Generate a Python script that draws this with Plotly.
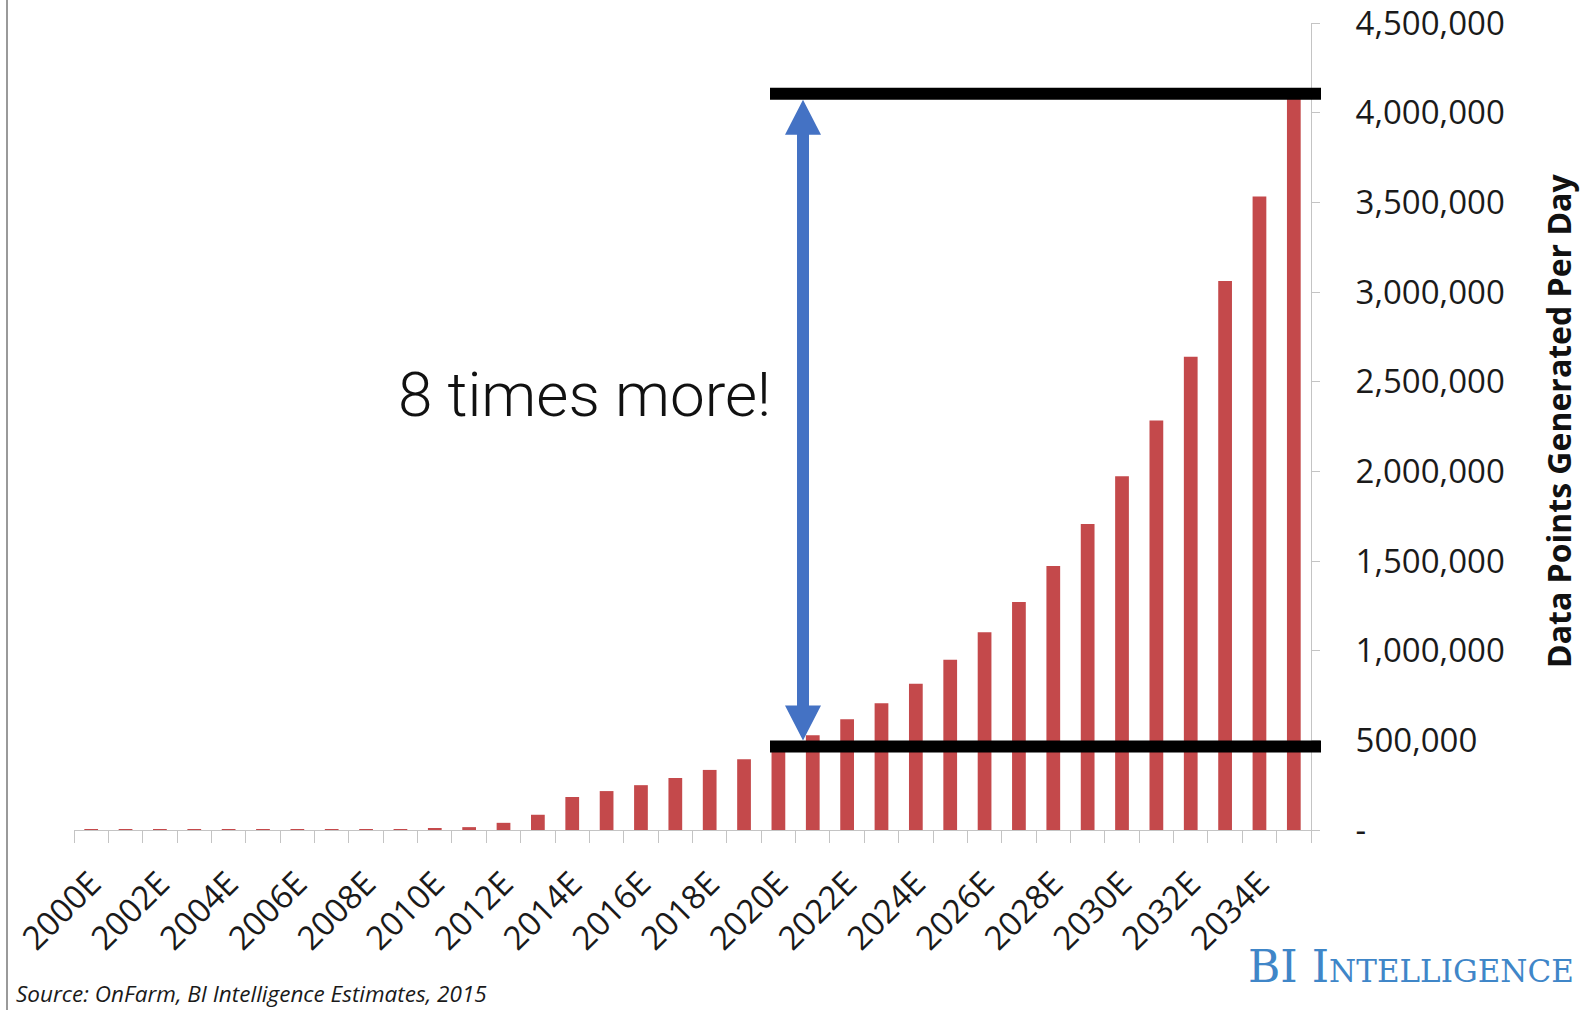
import plotly.graph_objects as go

# ---- data -------------------------------------------------------------
years = ["2000E", "2001E", "2002E", "2003E", "2004E", "2005E", "2006E", "2007E",
         "2008E", "2009E", "2010E", "2011E", "2012E", "2013E", "2014E", "2015E",
         "2016E", "2017E", "2018E", "2019E", "2020E", "2021E", "2022E", "2023E",
         "2024E", "2025E", "2026E", "2027E", "2028E", "2029E", "2030E", "2031E",
         "2032E", "2033E", "2034E", "2035E"]

data_points = [2000, 2100, 2300, 2500, 2700, 3000, 3300, 3700,
               4300, 5200, 8000, 16000, 40000, 85000, 184000, 217000,
               250000, 290000, 335000, 395000, 460000, 528000, 617000, 707000,
               816000, 950000, 1102000, 1272000, 1472000, 1707000, 1972000, 2283000,
               2639000, 3061000, 3533000, 4110000]

y_tick_values = [0, 500000, 1000000, 1500000, 2000000, 2500000, 3000000,
                 3500000, 4000000, 4500000]
y_tick_labels = ["-", "500,000", "1,000,000", "1,500,000", "2,000,000",
                 "2,500,000", "3,000,000", "3,500,000", "4,000,000", "4,500,000"]

# reference levels marked by the black bars
level_high = 4105000
level_low = 465000

# ---- layout geometry (pixels) -----------------------------------------
W, H = 1583, 1010
PL, PR, PT, PB = 74, 1311, 23, 830
Y_MAX = 4500000
Y_PER_PX = Y_MAX / (PB - PT)


def px_x(px):
    return (px - PL) / (PR - PL)


def px_y(py):
    return (PB - py) / (PB - PT)


idx = list(range(len(years)))
label_idx = idx[::2]

fig = go.Figure()
fig.add_trace(go.Bar(
    x=idx, y=data_points,
    marker=dict(color="#C4494B", line=dict(width=0)),
    hoverinfo="skip",
))

tick_font = dict(family="Open Sans", size=33, color="#1a1a1a")

fig.update_layout(
    template="none",
    width=W, height=H,
    margin=dict(l=PL, r=W - PR, t=PT, b=H - PB, pad=0),
    paper_bgcolor="white", plot_bgcolor="white",
    showlegend=False,
    bargap=0.6,
    xaxis=dict(
        type="linear", range=[-0.5, len(years) - 0.5],
        tickmode="array", tickvals=label_idx,
        ticktext=[years[i] for i in label_idx],
        tickangle=-45, tickfont=tick_font,
        ticks="", ticklabelstandoff=20,
        minor=dict(tickmode="array",
                   tickvals=[i - 0.5 for i in range(len(years) + 1)],
                   ticks="outside", ticklen=12, tickcolor="#c4c4c4", tickwidth=1),
        showline=True, linecolor="#c4c4c4", linewidth=1,
        showgrid=False, zeroline=False, automargin=False, fixedrange=True,
    ),
    yaxis=dict(
        side="right", range=[0, Y_MAX],
        tickmode="array", tickvals=y_tick_values, ticktext=y_tick_labels,
        tickfont=tick_font, ticklabeloverflow="allow",
        ticks="outside", ticklen=8, tickcolor="#c4c4c4", tickwidth=1,
        ticklabelstandoff=29,
        showline=True, linecolor="#c4c4c4", linewidth=1,
        showgrid=False, zeroline=False, automargin=False, fixedrange=True,
    ),
)

# ---- black level bars --------------------------------------------------
LINE_W = 12
for lvl in (level_high, level_low):
    fig.add_shape(type="line", xref="paper", yref="y",
                  x0=px_x(770), x1=px_x(1321), y0=lvl, y1=lvl,
                  line=dict(color="black", width=LINE_W), layer="above")

# ---- double-headed arrow between the two levels --------------------------
cx = px_x(803)
hw = 18 / (PR - PL)      # half head width
sw = 6 / (PR - PL)       # half shaft width
head = 35 * Y_PER_PX     # head length
top_tip = level_high - (LINE_W / 2) * Y_PER_PX
bot_tip = level_low + (LINE_W / 2) * Y_PER_PX
top_base = top_tip - head
bot_base = bot_tip + head
arrow_path = (
    f"M {cx - sw},{top_base} L {cx - hw},{top_base} L {cx},{top_tip} "
    f"L {cx + hw},{top_base} L {cx + sw},{top_base} L {cx + sw},{bot_base} "
    f"L {cx + hw},{bot_base} L {cx},{bot_tip} L {cx - hw},{bot_base} "
    f"L {cx - sw},{bot_base} Z"
)
fig.add_shape(type="path", xref="paper", yref="y", path=arrow_path,
              fillcolor="#4472C4", line=dict(width=0), layer="above")

# thin frame line on the left edge
fig.add_shape(type="line", xref="paper", yref="paper",
              x0=px_x(7), x1=px_x(7), y0=px_y(0), y1=px_y(H),
              line=dict(color="#9a9a9a", width=2))

# ---- text ----------------------------------------------------------------
fig.add_annotation(text="8 times more!", xref="paper", yref="paper",
                   x=px_x(584), y=px_y(394), xanchor="center", yanchor="middle",
                   showarrow=False,
                   font=dict(family="Roboto", size=62, weight=300, color="#111111"))

fig.add_annotation(text="Data Points Generated Per Day", xref="paper", yref="paper",
                   x=px_x(1558), y=px_y(421), xanchor="center", yanchor="middle",
                   textangle=-90, showarrow=False,
                   font=dict(family="Open Sans", size=32, weight=700, color="#111111"))

fig.add_annotation(text="Source: OnFarm, BI Intelligence Estimates, 2015",
                   xref="paper", yref="paper",
                   x=px_x(14), y=px_y(993), xanchor="left", yanchor="middle",
                   showarrow=False,
                   font=dict(family="Open Sans", size=22.5, style="italic", color="#1a1a1a"))

fig.add_annotation(text="BI Intelligence", xref="paper", yref="paper",
                   x=px_x(1576), y=px_y(966), xanchor="right", yanchor="middle",
                   showarrow=False,
                   font=dict(family="DejaVu Serif", size=44, variant="small-caps",
                             color="#3f86c8"))

fig.write_html("out.html")
